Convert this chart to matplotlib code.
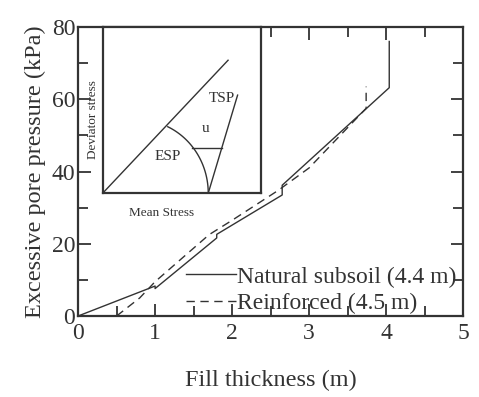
import matplotlib.pyplot as plt
import numpy as np
from matplotlib.ticker import MultipleLocator

# data
nat_x = [0.0, 1.0, 1.0, 1.8, 1.8, 2.65, 2.65, 4.04, 4.04]
nat_y = [0.0, 8.3, 7.6, 21.6, 22.6, 33.5, 36.2, 63.2, 76.0]
rein_x = [0.5, 0.8, 1.0, 1.7, 2.0, 2.6, 3.0, 3.74, 3.74]
rein_y = [0.0, 5.0, 9.5, 22.5, 26.5, 34.8, 41.0, 57.5, 63.5]
labels = ['Natural subsoil (4.4 m)', 'Reinforced (4.5 m)']


def main():
    plt.rcParams['font.family'] = ['Liberation Serif', 'DejaVu Serif']

    fig = plt.figure(figsize=(4.79, 3.97), dpi=100)
    ax = fig.add_axes([0.163, 0.204, 0.804, 0.728])
    ax.plot(nat_x, nat_y, c='#333333', lw=1.0, label=labels[0])
    ax.plot(rein_x, rein_y, c='#333333', lw=1.0, ls=(0, (6, 4)), label=labels[1])
    ax.set_xlim(0, 5)
    ax.set_ylim(0, 80)
    ax.xaxis.set_major_locator(MultipleLocator(1))
    ax.xaxis.set_minor_locator(MultipleLocator(0.5))
    ax.yaxis.set_major_locator(MultipleLocator(20))
    ax.yaxis.set_minor_locator(MultipleLocator(10))
    ax.tick_params(which='both', direction='in', top=True, right=True,
                   labelsize=17, width=1.3, colors='#333333')
    ax.tick_params(which='major', length=9)
    ax.tick_params(axis='x', which='major', pad=5)
    ax.tick_params(axis='y', which='major', pad=2)
    ax.tick_params(which='minor', length=7)
    for s in ax.spines.values():
        s.set_linewidth(1.6)
        s.set_color('#333333')
    ax.set_xlabel('Fill thickness (m)', fontsize=17.5, color='#333333', labelpad=19)
    ax.set_ylabel('Excessive pore pressure (kPa)', fontsize=17.5, color='#333333',
                  labelpad=4)

    ax.legend(loc='upper left', bbox_to_anchor=(0.257, 0.205), frameon=False,
              fontsize=17, handlelength=2.1, handletextpad=0.05,
              labelspacing=0.2, borderaxespad=0, labelcolor='#333333')

    # inset sketch
    ins = fig.add_axes([0.163 + 0.804 * 0.064, 0.204 + 0.728 * 0.425,
                        0.804 * 0.412, 0.728 * 0.575])
    ins.set_xlim(0, 1)
    ins.set_ylim(0, 1)
    ins.set_xticks([])
    ins.set_yticks([])
    for s in ins.spines.values():
        s.set_linewidth(1.6)
        s.set_color('#333333')
    ins.plot([0, 0.79], [0, 0.80], c='#333333', lw=1.0)
    cx, r = 0.224, 0.441
    th = np.linspace(np.arccos((0.41 - cx) / r), 0, 60)
    ins.plot(cx + r * np.cos(th), r * np.sin(th), c='#333333', lw=1.0)
    ins.plot([0.665, 0.85], [0.0, 0.59], c='#333333', lw=1.0)
    ins.plot([0.56, 0.75], [0.27, 0.27], c='#333333', lw=1.0)
    ins.text(0.75, 0.57, 'TSP', fontsize=11, ha='center', va='center', color='#333333')
    ins.text(0.65, 0.39, 'u', fontsize=11, ha='center', va='center', color='#333333')
    ins.text(0.41, 0.22, 'ESP', fontsize=11, ha='center', va='center', color='#333333')
    ins.text(-0.06, 0.44, 'Deviator stress', fontsize=9.5, rotation=90,
             ha='center', va='center', color='#333333')
    ins.text(0.37, -0.12, 'Mean Stress', fontsize=9.5, ha='center', va='center',
             color='#333333')

    plt.savefig('out.png', dpi=100)


if __name__ == "__main__":
    main()
